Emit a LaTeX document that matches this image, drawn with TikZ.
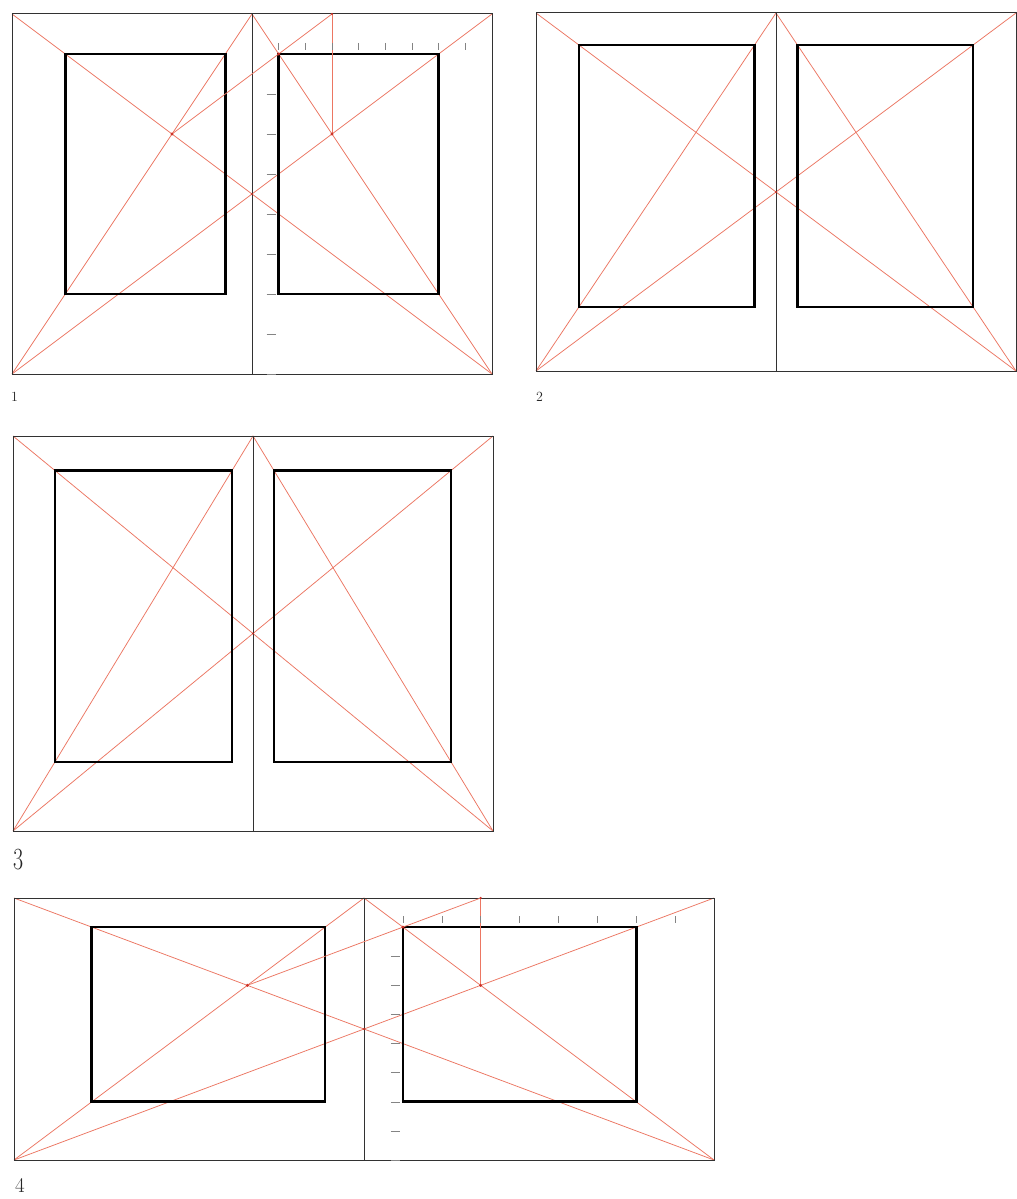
\documentclass[tikz,border=0pt]{standalone}
\usepackage{graphicx}
\usetikzlibrary{calc}
\definecolor{canonred}{RGB}{236,118,98}
\definecolor{dotred}{RGB}{205,50,40}
\definecolor{framegray}{RGB}{50,50,50}
\tikzset{
  frame/.style={draw=framegray, line width=1pt},
  spineline/.style={draw=framegray, line width=0.75pt},
  textblock/.style={draw=black, line width=2.6pt, line join=miter},
  guide/.style={draw=canonred, line width=0.75pt},
  tickmark/.style={draw=framegray!60, line width=0.5pt},
  pin/.style={fill=dotred, circle, inner sep=0pt, minimum size=3.2pt},
  numlabel/.style={anchor=base west, inner sep=0pt, text=black!85}
}
% #1 prefix, #2 x0, #3 y0, #4 page width, #5 page height, #6 inner margin
\newcommand{\spreadfig}[6]{%
  \pgfmathsetmacro{\tm}{#6*#5/#4}%
  \coordinate (#1TL) at (#2,#3);
  \coordinate (#1TR) at ({#2+2*#4},#3);
  \coordinate (#1BL) at (#2,{#3+#5});
  \coordinate (#1BR) at ({#2+2*#4},{#3+#5});
  \coordinate (#1ST) at ({#2+#4},#3);
  \coordinate (#1SB) at ({#2+#4},{#3+#5});
  \coordinate (#1LA) at ({#2+2*#6},{#3+\tm});
  \coordinate (#1LB) at ({#2+#4-#6},{#3+#5-2*\tm});
  \coordinate (#1RA) at ({#2+#4+#6},{#3+\tm});
  \coordinate (#1RB) at ({#2+2*#4-2*#6},{#3+#5-2*\tm});
  \draw[guide] (#1TL) -- (#1BR);
  \draw[guide] (#1BL) -- (#1TR);
  \draw[guide] (#1BL) -- (#1ST) -- (#1BR);
  \draw[frame] (#1TL) rectangle (#1BR);
  \draw[spineline] (#1ST) -- (#1SB);
  \draw[textblock] (#1LA) rectangle (#1LB);
  \draw[textblock] (#1RA) rectangle (#1RB);
  \node[pin, minimum size=2.4pt] (#1C) at ({#2+#4},{#3+#5/2}) {};
}
% Van de Graaf construction: #1 prefix, #2 x0, #3 y0, #4 w, #5 h
\newcommand{\canonfig}[5]{%
  \coordinate (#1Q) at ({#2+4*#4/3},#3);
  \coordinate (#1P) at ({#2+4*#4/3},{#3+#5/3});
  \coordinate (#1L) at ({#2+2*#4/3},{#3+#5/3});
  \draw[guide] (#1Q) -- (#1P);
  \draw[guide] (#1Q) -- (#1L);
  \foreach \k in {1,...,8} {\draw[tickmark] ({#2+#4+\k*#4/9},{#3+#5/9-11}) -- ++(0,7);}
  \foreach \k in {2,...,9} {\draw[tickmark] ({#2+#4+#4/9-12},{#3+\k*#5/9}) -- ++(9,0);}
  \node[pin] (#1dP) at (#1P) {};
  \node[pin] (#1dL) at (#1L) {};
  \node[pin] (#1dA) at (#1RA) {};
  \node[pin, minimum size=2.4pt] (#1dQ) at (#1Q) {};
}
\begin{document}
\begin{tikzpicture}[x=1pt,y=-1pt]
\useasboundingbox (0,0) rectangle (1017,1199);
\fill[white] (0,0) rectangle (1017,1199);
% 1
\spreadfig{a}{12}{14}{240}{360}{26.667}
\canonfig{a}{12}{14}{240}{360}
% 2
\spreadfig{b}{536}{13}{240}{358}{21.5}
% 3
\spreadfig{c}{13}{436}{240}{395}{21}
% 4
\spreadfig{d}{14}{898}{350}{262}{38.889}
\canonfig{d}{14}{898}{350}{262}
% labels
\node[numlabel, font=\fontsize{14}{14}\selectfont] (lab1) at (11,401) {1};
\node[numlabel, font=\fontsize{14}{14}\selectfont] (lab2) at (536,401) {2};
\node[numlabel, font=\fontsize{22}{22}\selectfont] (lab3) at (13,869) {\scalebox{1}[1.4]{3}};
\node[numlabel, font=\fontsize{21}{21}\selectfont] (lab4) at (15,1192) {4};
\end{tikzpicture}
\end{document}
